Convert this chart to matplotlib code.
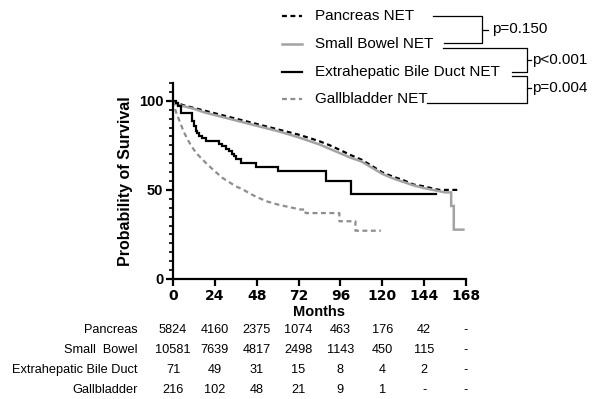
import matplotlib
matplotlib.use('Agg')
import matplotlib.pyplot as plt
from matplotlib.ticker import MultipleLocator
from matplotlib.transforms import blended_transform_factory

plt.rcParams['font.family'] = ['Liberation Sans', 'DejaVu Sans']

# ---- data ----
months = [0, 24, 48, 72, 96, 120, 144, 168]
table_names = ['Pancreas', 'Small  Bowel', 'Extrahepatic Bile Duct', 'Gallbladder']
legend_names = ['Pancreas NET', 'Small Bowel NET', 'Extrahepatic Bile Duct NET', 'Gallbladder NET']
p_values = ['p=0.150', 'p<0.001', 'p=0.004']

risk_pancreas = ['5824', '4160', '2375', '1074', '463', '176', '42', '-']
risk_bowel = ['10581', '7639', '4817', '2498', '1143', '450', '115', '-']
risk_bile = ['71', '49', '31', '15', '8', '4', '2', '-']
risk_gall = ['216', '102', '48', '21', '9', '1', '-', '-']

# large groups: curve traced point by point (steps too fine to see), tails as steps
panc_t = [0, 1, 3, 6, 12, 18, 24, 30, 36, 42, 48, 54, 60, 66, 72, 78, 84, 90, 96,
          102, 108, 114, 120, 126, 132, 138, 144, 150, 153, 163]
panc_s = [100, 99, 98.5, 97.5, 96, 94.5, 93, 91.5, 90, 88.5, 87, 85.5, 84, 82.5, 81,
          79.2, 77.3, 75, 72.3, 69.5, 67, 63.5, 59.8, 57.5, 55.5, 53, 52, 50.5, 50, 50]

bowel_t = [0, 1, 3, 6, 12, 18, 24, 30, 36, 42, 48, 54, 60, 66, 72, 78, 84, 90, 96,
           102, 108, 114, 120, 126, 132, 138, 144, 150, 156, 159.5, 159.5, 161, 161, 166.5]
bowel_s = [100, 98.5, 97.8, 97, 95.5, 93.5, 92, 90.5, 89, 87.5, 86, 84.5, 83, 81.3,
           79.5, 77.5, 75.5, 73, 70.5, 68, 66, 62.5, 59, 56.5, 54.5, 52.5, 51, 49.8,
           48.6, 48.6, 41, 41, 27.7, 27.7]

gall_t = [0, 1, 2, 3, 4, 6, 8, 10, 12, 14, 17, 20, 24, 28, 32, 36, 40, 44, 48, 54,
          60, 66, 73, 76, 76, 95.4, 95.4, 104.6, 104.6, 119.2]
gall_s = [100, 96, 93, 90.5, 88, 83, 79, 75.5, 72.5, 70, 67, 64, 60.5, 57, 54.5, 52,
          50.3, 48, 46, 43.5, 41.8, 40.5, 39, 39, 37, 37, 32.4, 32.4, 27.1, 27.1]

# small group: visible Kaplan-Meier steps
bile_t = [0, 1.5, 3, 4.4, 11, 12, 13, 14, 15, 16.8, 18.8, 26.5, 28, 30.3, 32.2,
          34.1, 35, 36, 38.9, 47.5, 60, 87.8, 102.2, 151]
bile_s = [100, 98.6, 97.2, 92.9, 88.7, 85.9, 83.1, 81.7, 80.3, 78.9, 77.5, 76.0,
          74.6, 73.2, 71.8, 70.4, 69.0, 67.6, 65.0, 63.1, 60.6, 55.0, 47.5, 47.5]

black = '#000000'
gray_solid = '#a3a3a3'
gray_dash = '#8e8e8e'

styles = [
    dict(color=black, lw=1.6, dashes=(2.2, 1.6)),
    dict(color=gray_solid, lw=1.8),
    dict(color=black, lw=1.6),
    dict(color=gray_dash, lw=1.6, dashes=(2.2, 1.6)),
]
curves = [(panc_t, panc_s, 'default'), (bowel_t, bowel_s, 'default'),
          (bile_t, bile_s, 'steps-post'), (gall_t, gall_s, 'default')]
risks = [risk_pancreas, risk_bowel, risk_bile, risk_gall]

W, H = 594, 399
fig = plt.figure(figsize=(W / 100, H / 100), dpi=100)

# main plot
ax = fig.add_axes([173 / W, 1 - 279 / H, (466 - 173) / W, (279 - 83) / H])
for (t, s, ds), st in zip(curves, styles):
    ax.plot(t, s, drawstyle=ds, solid_joinstyle='miter', clip_on=False, **st)

ax.set_xlim(0, 168)
ax.set_ylim(0, 110)
ax.set_xticks(months)
ax.set_yticks([0, 50, 100])
ax.yaxis.set_minor_locator(MultipleLocator(5))
for sp in ['top', 'right']:
    ax.spines[sp].set_visible(False)
for sp in ['left', 'bottom']:
    ax.spines[sp].set_linewidth(1.6)
ax.tick_params(which='major', direction='out', length=5, width=1.6, pad=2)
ax.tick_params(which='minor', direction='out', length=3, width=1.2)
for lab in ax.get_yticklabels():
    lab.set_fontweight('bold')
    lab.set_fontsize(10.5)
for lab in ax.get_xticklabels():
    lab.set_family('DejaVu Sans')
    lab.set_fontweight('bold')
    lab.set_fontsize(10)
ax.set_xlabel('Months', fontsize=10.5, fontweight='bold', labelpad=2)
ax.set_ylabel('Probability of Survival', fontsize=11.5, fontweight='bold', labelpad=4)

# overlay in pixel coordinates for legend, brackets and risk table
ov = fig.add_axes([0, 0, 1, 1], zorder=5)
ov.set_xlim(0, W)
ov.set_ylim(H, 0)
ov.axis('off')

leg_y = [16, 44, 72, 99]
for name, st, y in zip(legend_names, styles, leg_y):
    ov.plot([282, 302], [y, y], **st)
    ov.text(315, y, name, fontsize=11, va='center', ha='left')

bk = dict(color=black, lw=0.9)
# Pancreas vs Small Bowel
ov.plot([433, 482, 482, 444], [16, 16, 43, 43], **bk)
ov.plot([482, 488], [29.5, 29.5], **bk)
ov.text(492, 29.5, p_values[0], fontsize=11, va='center')
# Small Bowel vs Bile Duct
ov.plot([443, 527, 527, 512], [47.5, 47.5, 71.5, 71.5], **bk)
ov.plot([527, 531], [60, 60], **bk)
ov.text(532, 60, p_values[1], fontsize=11, va='center')
# Bile Duct vs Gallbladder
ov.plot([512, 527, 527, 427], [75.5, 75.5, 103, 103], **bk)
ov.plot([527, 531], [88, 88], **bk)
ov.text(532, 88, p_values[2], fontsize=11, va='center')

# numbers at risk
tr = blended_transform_factory(ax.transData, ov.transData)
row_y = [330, 350, 370, 390]
for name, row, y in zip(table_names, risks, row_y):
    ov.text(138, y, name, fontsize=9.2, ha='right', va='center')
    for m, v in zip(months, row):
        ov.text(m, y, v, fontsize=9.2, ha='center', va='center', transform=tr)

fig.savefig('out.png', dpi=100)
